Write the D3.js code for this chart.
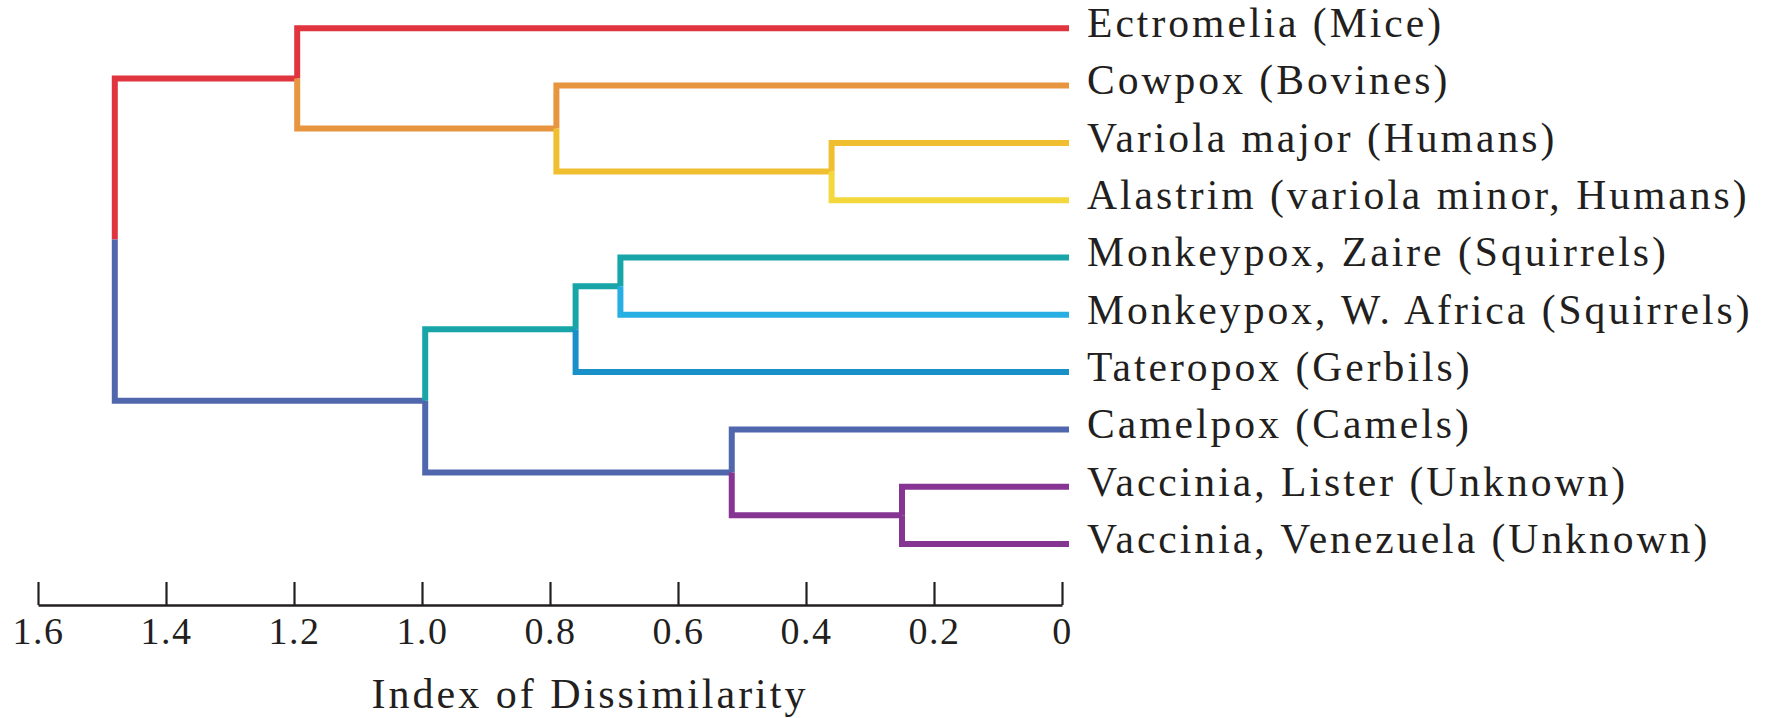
<!DOCTYPE html>
<html>
<head>
<meta charset="utf-8">
<script src="https://cdn.jsdelivr.net/npm/d3@7"></script>
<style>
  html, body { margin: 0; padding: 0; background: #fff; }
  svg { display: block; }
</style>
</head>
<body>
<svg id="chart" width="1774" height="718"></svg>
<script>
// ---------- data ----------
const leaves = [
  "Ectromelia (Mice)",
  "Cowpox (Bovines)",
  "Variola major (Humans)",
  "Alastrim (variola minor, Humans)",
  "Monkeypox, Zaire (Squirrels)",
  "Monkeypox, W. Africa (Squirrels)",
  "Tateropox (Gerbils)",
  "Camelpox (Camels)",
  "Vaccinia, Lister (Unknown)",
  "Vaccinia, Venezuela (Unknown)"
];
// merges (node ids: leaves 0-9, merges 10+ in order)
const mergeLeft   = [2, 8, 4, 7, 12, 1, 14, 0, 17];
const mergeRight  = [3, 9, 5, 11, 6, 10, 13, 15, 16];
const mergeHeight = [0.36, 0.25, 0.69, 0.516, 0.76, 0.79, 0.995, 1.195, 1.48];

const tickValues = [1.6, 1.4, 1.2, 1.0, 0.8, 0.6, 0.4, 0.2, 0];
const tickLabels = ["1.6", "1.4", "1.2", "1.0", "0.8", "0.6", "0.4", "0.2", "0"];
const axisTitle = "Index of Dissimilarity";

// ---------- styles ----------
const leafColors  = ["#e0343f", "#e8953f", "#efbf2f", "#f2d83c", "#17a5a8",
                     "#27afe3", "#1a90c8", "#5067ad", "#873593", "#873593"];
const mergeColors = ["#efbf2f", "#873593", "#17a5a8", "#5067ad", "#17a5a8",
                     "#e8953f", "#5067ad", "#e0343f", "#5067ad"];
const FONT = "'Liberation Serif', 'Times New Roman', serif";

// ---------- build tree ----------
const nodes = leaves.map((name, i) => ({ id: i, name, height: 0, color: leafColors[i] }));
mergeLeft.forEach((l, i) => {
  nodes.push({ id: leaves.length + i, height: mergeHeight[i], color: mergeColors[i],
               children: [nodes[l], nodes[mergeRight[i]]] });
});
const root = d3.hierarchy(nodes[nodes.length - 1], d => d.children);

const svg = d3.select("#chart");
svg.append("rect").attr("width", 1774).attr("height", 718).attr("fill", "#fff");

const x = d3.scaleLinear().domain([1.6, 0]).range([38, 1062]);
const y = d3.scalePoint().domain(leaves).range([28.3, 544]);

root.eachAfter(d => {
  if (d.children) {
    d.py = d3.mean(d.children, c => c.py);
    d.px = x(d.data.height);
  } else {
    d.py = y(d.data.name);
    d.px = x(0) + 7;
  }
});

// ---------- links ----------
svg.append("g")
  .selectAll("path")
  .data(root.links())
  .join("path")
  .attr("d", l => `M${l.source.px},${l.source.py}V${l.target.py}H${l.target.px}`)
  .attr("fill", "none")
  .attr("stroke", l => l.target.data.color)
  .attr("stroke-width", 6)
  .attr("stroke-linejoin", "miter")
  .attr("stroke-linecap", "butt");

// ---------- leaf labels ----------
svg.append("g")
  .selectAll("text")
  .data(root.leaves())
  .join("text")
  .attr("x", x(0) + 25)
  .attr("y", d => d.py + 8.8)
  .attr("font-family", FONT)
  .attr("font-size", 41.6)
  .attr("letter-spacing", 3.0)
  .attr("fill", "#231f20")
  .text(d => d.data.name);

// ---------- axis ----------
const axis = d3.axisBottom(x)
  .tickValues(tickValues)
  .tickFormat((d, i) => tickLabels[i])
  .tickSizeInner(-23)
  .tickSizeOuter(0)
  .tickPadding(12);

const gAxis = svg.append("g")
  .attr("transform", "translate(0,605)")
  .call(axis);
gAxis.select(".domain").attr("stroke", "#231f20").attr("stroke-width", 2.4);
gAxis.selectAll(".tick line").attr("stroke", "#231f20").attr("stroke-width", 2.2);
gAxis.selectAll(".tick text")
  .attr("font-family", FONT)
  .attr("font-size", 38)
  .attr("letter-spacing", 1.5)
  .attr("fill", "#231f20");

svg.append("text")
  .attr("x", 590)
  .attr("y", 708)
  .attr("text-anchor", "middle")
  .attr("font-family", FONT)
  .attr("font-size", 42)
  .attr("letter-spacing", 3.0)
  .attr("fill", "#231f20")
  .text(axisTitle);
</script>
</body>
</html>
